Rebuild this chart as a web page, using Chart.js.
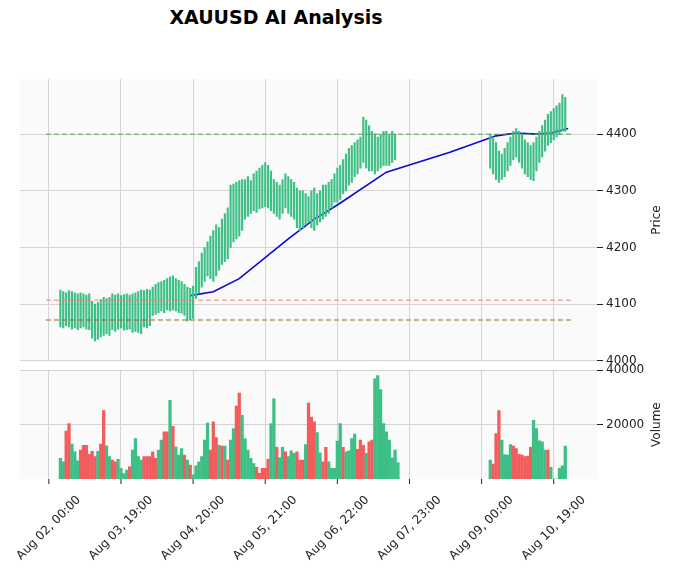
<!DOCTYPE html>
<html><head><meta charset="utf-8">
<script src="https://cdn.jsdelivr.net/npm/chart.js@4"></script>
<style>
body{margin:0;background:#fff;width:679px;height:578px;overflow:hidden;font-family:"DejaVu Sans";}
#title{position:absolute;top:6px;left:0;width:552px;text-align:center;font-weight:bold;font-size:19px;color:#000;}
.box{position:absolute;left:0;width:679px;}
</style></head><body>
<div id="title">XAUUSD AI Analysis</div>
<div class="box" style="top:69px;height:302px"><canvas id="p"></canvas></div>
<div class="box" style="top:360px;height:218px"><canvas id="v"></canvas></div>
<script>
const tickIdx=[0,25,50,75,100,125,150,175];
const tickLabels=["Aug 02, 00:00","Aug 03, 19:00","Aug 04, 20:00","Aug 05, 21:00","Aug 06, 22:00","Aug 07, 23:00","Aug 09, 00:00","Aug 10, 19:00"];
// segment 1 starts at index 4, segment 2 at index 153
const start1=4, start2=153;
const high1=[4125,4122,4120,4124,4122,4120,4118,4120,4118,4116,4118,4105,4100,4103,4108,4112,4110,4112,4118,4116,4118,4115,4117,4118,4116,4118,4120,4122,4125,4124,4126,4125,4130,4135,4138,4140,4142,4145,4148,4150,4145,4142,4140,4135,4130,4128,4132,4165,4175,4190,4200,4210,4220,4230,4240,4235,4250,4260,4270,4310,4312,4315,4318,4320,4320,4325,4318,4330,4335,4340,4345,4350,4345,4335,4320,4315,4310,4320,4330,4325,4320,4315,4305,4300,4300,4295,4290,4300,4305,4295,4300,4310,4310,4315,4320,4330,4340,4345,4355,4365,4375,4380,4385,4390,4395,4430,4425,4415,4405,4400,4395,4400,4405,4405,4400,4405,4400];
const low1=[4060,4058,4062,4060,4056,4058,4055,4058,4060,4056,4055,4040,4035,4038,4042,4045,4048,4045,4055,4052,4056,4058,4054,4055,4056,4050,4052,4050,4048,4060,4058,4062,4080,4082,4085,4088,4085,4090,4088,4090,4088,4085,4084,4080,4070,4072,4075,4110,4120,4130,4140,4150,4145,4140,4150,4160,4170,4175,4180,4200,4210,4215,4220,4230,4250,4255,4260,4265,4262,4268,4270,4272,4270,4265,4260,4255,4250,4260,4270,4260,4255,4250,4235,4230,4235,4240,4245,4235,4230,4240,4245,4250,4255,4260,4270,4280,4280,4285,4295,4300,4310,4315,4325,4330,4340,4350,4340,4335,4335,4330,4335,4340,4345,4345,4345,4350,4355];
const high2=[4400,4395,4385,4370,4365,4375,4385,4395,4405,4410,4405,4400,4390,4385,4380,4385,4395,4405,4415,4425,4435,4440,4445,4450,4455,4470,4465];
const low2=[4340,4330,4320,4315,4320,4325,4335,4345,4355,4360,4350,4340,4330,4325,4320,4318,4335,4350,4360,4370,4380,4385,4390,4395,4400,4405,4405];
const vol1=[7600,6300,17600,20400,12800,10000,6700,10600,12400,12400,9100,10200,8200,10200,12800,25200,12200,8200,7000,6300,7200,3900,2000,3300,4500,10600,14900,8200,7000,8200,8200,8200,10000,7600,10600,14300,17300,17300,28900,19400,11800,8800,11200,8800,7000,5100,1500,4800,6300,8200,14300,20600,10600,21000,15200,12400,12100,12100,7000,14300,18500,26800,31600,23400,14900,10600,7600,5700,4300,2100,3900,3900,7200,20400,29500,11600,7900,11600,10000,8200,10400,9400,10000,7000,7000,12700,27900,22800,21000,17100,9600,6300,11600,6300,3900,3900,13900,20400,11600,10000,10400,14900,16500,10900,14300,12400,9400,13700,14300,36800,38000,32900,20400,17300,14300,7800,10600,6000];
const up1="ggrrgggrrrrrrgrrggrrggggrggggrrrrrggrrgrgggrgrggggggrrrgrgrggrrgggggrrrrrggrggrgggrrrgrrrggrrgggggrggggrrrgrr";
const vol2=[7000,5500,16700,25200,14300,9000,8800,12700,12100,11200,9100,8800,8200,8400,11600,21600,18500,14000,13700,10600,10600,4300,0,0,3900,4800,12100];
const up2="grrrggggrrrrrrrgggggrggggg";
const maIdx=[49,57,66,83,92,100,117,139,155,162,169,174,180];
const maVal=[4115,4122,4145,4215,4250,4275,4333,4368,4397,4402,4400,4402,4410];
const levels=[4400,4107,4072];
const levelColors=["#5aa05a","#e88080","#8a6a3a"];

const G="#3dbf85", R="#f25c5c";
const candles=[], vols=[], vcol=[];
high1.forEach((h,i)=>candles.push({x:start1+i,y:[low1[i],h]}));
high2.forEach((h,i)=>candles.push({x:start2+i,y:[low2[i],h]}));
vol1.forEach((v,i)=>{vols.push({x:start1+i,y:v});vcol.push((up1[i]||'g')==='g'?G:R);});
vol2.forEach((v,i)=>{vols.push({x:start2+i,y:v});vcol.push((up2[i]||'g')==='g'?G:R);});
const ma=maIdx.map((x,i)=>({x,y:maVal[i]}));

const bg={id:'bg',beforeDraw(c){const a=c.chartArea,x=c.ctx;x.save();x.fillStyle='#fafafa';x.fillRect(a.left,a.top,a.right-a.left,a.bottom-a.top);x.restore();},
 afterDraw(c){const o=c.options.plugins;const a=c.chartArea,x=c.ctx;
  if(o.ytitle){x.save();x.font='12px "DejaVu Sans"';x.fillStyle='#222';x.textAlign='center';x.textBaseline='middle';x.translate(657,(a.top+a.bottom)/2);x.rotate(-Math.PI/2);x.fillText(o.ytitle,0,0);x.restore();}
  if(o.xlabels){const s=c.scales.x;x.save();x.font='12px "DejaVu Sans"';x.fillStyle='#222';x.strokeStyle='#222';
   tickIdx.forEach((v,i)=>{const px=s.getPixelForValue(v);x.beginPath();x.moveTo(px,a.bottom);x.lineTo(px,a.bottom+5);x.stroke();
    x.save();x.translate(px,a.bottom+49);x.rotate(-Math.PI/4);x.textAlign='center';x.textBaseline='middle';x.fillText(tickLabels[i],0,0);x.restore();});
   x.restore();}}};
const font={family:'DejaVu Sans',size:12};
Chart.defaults.color='#222';
const xBase=(show)=>({type:'linear',min:-10,max:190,offset:false,
  afterBuildTicks:s=>{s.ticks=tickIdx.map(v=>({value:v}));},
  grid:{color:'#d4d4d4',drawTicks:false,offset:false},border:{display:false},
  ticks:{display:false},
  afterFit:show?(s=>{s.height=99;}):undefined});
const yFit=s=>{s.width=82;};
const yt={font,callback:v=>String(v)};

new Chart(document.getElementById('p'),{
 plugins:[bg],
 data:{datasets:[
  ...levels.map((l,i)=>({type:'line',data:[{x:-1,y:l},{x:181,y:l}],borderColor:levelColors[i],borderWidth:1,borderDash:[5,3],pointRadius:0})),
  {type:'bar',data:candles,backgroundColor:G,barThickness:1.5,grouped:false},
  {type:'line',data:ma,borderColor:'#0a0ad0',borderWidth:1.6,pointRadius:0,tension:0}
 ]},
 options:{animation:false,responsive:true,maintainAspectRatio:false,layout:{padding:{left:20,top:8,bottom:8,right:0}},
  plugins:{legend:{display:false},tooltip:{enabled:false},ytitle:'Price'},
  scales:{x:xBase(false),
   y:{position:'right',min:4000,max:4497,afterBuildTicks:s=>{s.ticks=[4000,4100,4200,4300,4400].map(v=>({value:v}));},
      grid:{color:'#d4d4d4',tickLength:6,tickColor:'#222'},border:{display:false},ticks:yt,afterFit:yFit}}}
});
new Chart(document.getElementById('v'),{
 plugins:[bg],
 data:{datasets:[{type:'bar',data:vols,backgroundColor:vcol,barThickness:2.6}]},
 options:{animation:false,responsive:true,maintainAspectRatio:false,layout:{padding:{left:20,top:8,bottom:0,right:0}},
  plugins:{legend:{display:false},tooltip:{enabled:false},ytitle:'Volume',xlabels:true},
  scales:{x:xBase(true),
   y:{position:'right',min:0,max:40000,afterBuildTicks:s=>{s.ticks=[20000,40000].map(v=>({value:v}));},
      grid:{color:'#d4d4d4',tickLength:6,tickColor:'#222'},border:{display:false},ticks:yt,afterFit:yFit}}}
});
</script></body></html>
